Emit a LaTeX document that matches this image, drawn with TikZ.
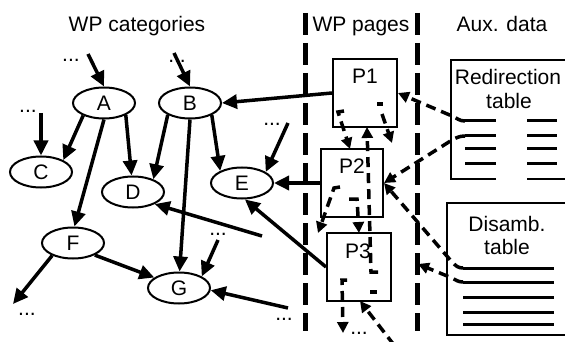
\documentclass[tikz,border=0pt]{standalone}
\usepackage{fontspec}
\setmainfont{Liberation Sans}
\usetikzlibrary{arrows.meta,shapes.geometric}

\begin{document}
\begin{tikzpicture}[x=1pt,y=-1pt,
  every node/.style={font=\fontsize{21}{25}\selectfont, inner sep=0pt},
  cat/.style={draw, ellipse, line width=2pt, minimum width=62pt, minimum height=31pt},
  page/.style={draw, line width=2pt},
  link/.style={line width=3.5pt, -{Triangle[length=15pt,width=14pt]}},
  weblink/.style={line width=3.5pt, dash pattern=on 10pt off 6pt, -{Triangle[length=11pt,width=11pt]}},
  anchormark/.style={line width=3.5pt},
  divider/.style={line width=5pt, dash pattern=on 22pt off 8pt},
  tableframe/.style={line width=2.5pt},
  row/.style={line width=3pt},
  dots/.style={anchor=base},
  heading/.style={anchor=base},
]
\useasboundingbox (0,0) rectangle (565,342);

% column headings
\node[heading] (hcat) at (137,32) {WP categories};
\node[heading] (hpages) at (361,32) {WP pages};
\node[heading] (haux) at (502,32) {Aux. data};

% dashed column separators
\draw[divider] (305,13) -- (305,331);
\draw[divider] (417,13) -- (417,331);

% category graph
\node[cat] (A) at (104,103) {A};
\node[cat] (B) at (190,103) {B};
\node[cat] (C) at (41,172) {C};
\node[cat] (D) at (133,192) {D};
\node[cat] (E) at (242,183) {E};
\node[cat] (F) at (73,243) {F};
\node[cat] (G) at (179,288) {G};

% elided parts of the graph
\node[dots] (dA) at (71,62) {...};
\node[dots] (dB) at (177,63) {...};
\node[dots] (dC) at (28,113) {...};
\node[dots] (dE) at (272,126) {...};
\node[dots] (dG1) at (218,235) {...};
\node[dots] (dF) at (27,315) {...};
\node[dots] (dG2) at (284,320) {...};
\node[dots] (dP3) at (359,334) {...};

\coordinate (cA) at (88,54);
\coordinate (cB) at (174,53);
\coordinate (cC) at (41,113);
\coordinate (cE) at (288,123);
\coordinate (cD) at (262,236);
\coordinate (cG1) at (218,240);
\coordinate (cF) at (13,304);
\coordinate (cG2) at (288,308);

% pages
\node[page, minimum width=64pt, minimum height=68pt] (P1) at (365,93) {};
\node[page, minimum width=62pt, minimum height=68pt] (P2) at (352,183) {};
\node[page, minimum width=64pt, minimum height=68pt] (P3) at (359,267) {};
\node[heading] (P1t) at (365,84) {P1};
\node[heading] (P2t) at (352,174) {P2};
\node[heading] (P3t) at (358,258) {P3};

% auxiliary tables
\draw[tableframe] (496,179) -- (451,179) -- (451,60) -- (570,60);
\draw[tableframe] (527,179) -- (570,179);
\foreach \y in {121,136,149,164} {
  \draw[row] (465,\y) -- (496,\y);
  \draw[row] (527,\y) -- (557,\y);
}
\node[heading] (redir1) at (508,85) {Redirection};
\node[heading] (redir2) at (509,109) {table};

\draw[tableframe] (447,203) rectangle (570,335);
\foreach \y in {268,282,297,312,324} \draw[row] (463,\y) -- (554,\y);
\node[heading] (dis1) at (507,231) {Disamb.};
\node[heading] (dis2) at (507,254) {table};

\coordinate (r1) at (465,121);
\coordinate (r2) at (465,136);
\coordinate (d1) at (463,268);
\coordinate (d2) at (463,282);
\coordinate (dend) at (418,264);

% category links
\draw[link] (cA) -- (A.north);
\draw[link] (cB) -- (B.north);
\draw[link] (cC) -- (C.north);
\draw[link] (A.211.8) -- (C.28.6);
\draw[link] (A.331.4) -- (D.95);
\draw[link] (A.270) -- (F.85);
\draw[link] (B.208.6) -- (D.32.5);
\draw[link] (B.270) -- (G.88);
\draw[link] (B.331.4) -- (E.151.6);
\draw[link] (P1.west) -- (B.east);
\draw[link] (cE) -- (E.25.6);
\draw[link] (P2.west) -- (E.east);
\draw[link] (P3.west) -- (E.280);
\draw[link] (cD) -- (D.331.6);
\draw[link] (cG1) -- (G.27.6);
\draw[link] (F.331.4) -- (G.157.8);
\draw[link] (F.211.8) -- (cF);
\draw[link] (cG2) -- (G.356);

% links between pages
\coordinate (p1a) at (344,111);
\coordinate (p1ab) at (338,112);
\coordinate (p2top) at (350,149);
\draw[weblink] (p1a) -- (p1ab) -- (p2top);

\draw[anchormark] (377,104) -- (383,104);
\coordinate (p1b) at (382,114);
\coordinate (p1bend) at (392,143);
\draw[weblink] (p1b) -- (p1bend);

\coordinate (p2a) at (340,187);
\coordinate (p2ab) at (334,188);
\coordinate (p2aend) at (318,233);
\draw[weblink] (p2a) -- (p2ab) -- (p2aend);

\coordinate (p2b) at (349,199);
\coordinate (p2bb) at (357,199);
\coordinate (p3top) at (359,233);
\draw[weblink] (p2b) -- (p2bb) -- (p3top);

\coordinate (p3a) at (347,280);
\coordinate (p3ab) at (342,280);
\coordinate (p3aend) at (343,333);
\draw[weblink] (p3a) -- (p3ab) -- (p3aend);

\coordinate (p3b) at (378,272);
\coordinate (p3bb) at (371,272);
\coordinate (p1bot) at (367,127);
\draw[weblink] (p3b) -- (p3bb) -- (p1bot);

\draw[anchormark] (370,292) -- (377,292);

\coordinate (ext) at (394,345);
\coordinate (p3bot) at (360,301);
\draw[weblink] (ext) -- (p3bot);

% table entries pointing to pages
\draw[weblink] (r1) .. controls (459,121) and (457,118) .. (452,116) -- (P1.east);
\draw[weblink] (r2) .. controls (459,136) and (456,138) .. (452,140) -- (P2.east);
\draw[weblink] (d1) .. controls (458,268) and (456,266) .. (452,262) -- (P2.east);
\draw[weblink] (d2) .. controls (458,282) and (456,280) .. (452,278) -- (dend);
\end{tikzpicture}
\end{document}
